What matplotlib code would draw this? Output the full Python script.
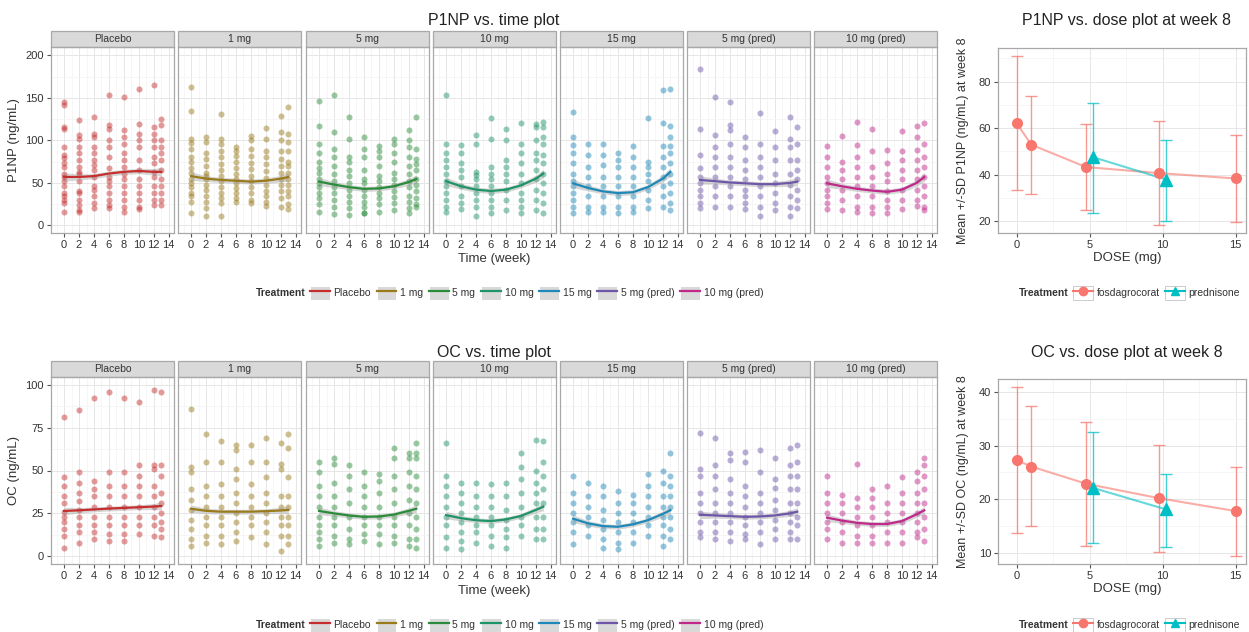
import numpy as np
import matplotlib
matplotlib.use("Agg")
import matplotlib.pyplot as plt
from matplotlib.lines import Line2D
from matplotlib.patches import Rectangle
from matplotlib.legend_handler import HandlerLine2D
from matplotlib.ticker import MultipleLocator

plt.rcParams["font.family"] = ["Liberation Sans", "DejaVu Sans"]

# ---------------------------------------------------------------- data
WEEKS = [0, 2, 4, 6, 8, 10, 12, 13]
TREATMENTS = ["Placebo", "1 mg", "5 mg", "10 mg", "15 mg", "5 mg (pred)", "10 mg (pred)"]
COLORS = ["#C62D2D", "#9A7B1C", "#2A8C3A", "#1F9468", "#1E88B8", "#6E57A8", "#C0288A"]

# P1NP (ng/mL) observations, one list per week column
p1np_placebo = [
    [145, 142, 116, 113, 92, 83, 79, 73, 69, 61, 57, 52, 46, 38, 34, 30, 26, 16],
    [124, 106, 102, 92, 85, 77, 69, 63, 61, 52, 40, 38, 30, 24, 18, 16],
    [128, 108, 104, 92, 85, 77, 71, 65, 57, 46, 42, 34, 26, 20],
    [154, 118, 114, 100, 92, 81, 67, 57, 52, 46, 38, 30, 24, 20],
    [151, 112, 104, 96, 85, 77, 69, 61, 55, 46, 38, 30, 22, 16],
    [160, 119, 108, 100, 92, 77, 65, 54, 46, 38, 30, 22, 19],
    [165, 116, 108, 100, 92, 81, 73, 63, 57, 46, 38, 30, 24],
    [125, 118, 100, 92, 85, 77, 65, 54, 46, 38, 30, 24],
]
p1np_1mg = [
    [163, 135, 102, 97, 90, 80, 75, 68, 62, 55, 50, 45, 38, 34, 28, 14],
    [104, 98, 85, 78, 70, 62, 58, 54, 48, 42, 35, 28, 20, 11],
    [131, 102, 96, 88, 80, 72, 65, 58, 52, 45, 38, 32, 26, 11],
    [92, 88, 82, 75, 68, 60, 55, 50, 44, 38, 32, 27],
    [105, 100, 90, 82, 74, 66, 58, 52, 45, 38, 30, 26],
    [115, 102, 88, 80, 72, 64, 56, 48, 40, 34, 28, 23],
    [129, 110, 100, 88, 78, 70, 62, 55, 48, 40, 32, 22],
    [139, 108, 98, 88, 75, 70, 62, 55, 48, 40, 34, 25, 19],
]
p1np_5mg = [
    [147, 117, 96, 85, 75, 68, 62, 55, 50, 45, 38, 32, 25, 16],
    [154, 110, 90, 80, 70, 60, 52, 45, 38, 30, 22, 13],
    [127, 102, 80, 75, 65, 58, 50, 42, 35, 28, 20, 12],
    [104, 90, 80, 65, 55, 50, 42, 35, 28, 22, 15, 14],
    [93, 88, 80, 70, 58, 52, 45, 38, 32, 25, 16],
    [102, 96, 85, 75, 62, 55, 48, 40, 33, 26, 18],
    [112, 100, 92, 80, 70, 60, 52, 45, 35, 28, 20, 14],
    [127, 90, 78, 72, 65, 55, 48, 40, 32, 25, 22],
]
p1np_10mg = [
    [153, 96, 85, 77, 69, 61, 52, 46, 38, 30, 22, 16],
    [95, 85, 73, 65, 57, 46, 34, 26, 19],
    [106, 96, 63, 59, 54, 46, 38, 30, 22, 11],
    [126, 102, 69, 61, 54, 46, 38, 30, 22, 14],
    [114, 100, 77, 69, 61, 52, 42, 30, 18],
    [121, 96, 85, 73, 61, 50, 38, 30, 22, 14],
    [119, 116, 100, 85, 77, 65, 54, 42, 30, 18],
    [122, 116, 104, 96, 83, 73, 61, 50, 38, 26, 14],
]
p1np_15mg = [
    [134, 104, 95, 85, 73, 61, 52, 46, 38, 30, 22, 14],
    [96, 83, 69, 57, 46, 34, 22, 16],
    [96, 83, 71, 57, 46, 34, 22, 16],
    [85, 77, 69, 57, 46, 34, 22, 14],
    [93, 81, 69, 57, 46, 34, 22, 16],
    [126, 75, 69, 61, 52, 42, 30, 20],
    [159, 120, 93, 81, 69, 57, 46, 34, 22],
    [160, 117, 104, 93, 85, 73, 61, 50, 38, 26, 18],
]
p1np_5mg_pred = [
    [184, 114, 83, 67, 57, 50, 42, 34, 26, 20],
    [151, 106, 92, 81, 69, 57, 46, 34, 22],
    [145, 118, 112, 96, 81, 69, 57, 46, 34, 22],
    [104, 92, 77, 65, 54, 42, 34, 26, 19],
    [132, 96, 81, 69, 57, 46, 34, 22, 11],
    [111, 92, 77, 61, 50, 38, 26, 18],
    [128, 102, 92, 77, 61, 48, 34, 22, 11],
    [116, 96, 77, 65, 54, 42, 30, 21],
]
p1np_10mg_pred = [
    [93, 81, 69, 57, 50, 42, 34, 26, 19],
    [105, 75, 65, 54, 42, 30, 18],
    [122, 95, 81, 69, 57, 46, 34, 22, 16],
    [113, 87, 69, 57, 46, 34, 22, 14],
    [89, 73, 61, 52, 40, 30, 22, 14],
    [111, 87, 77, 65, 54, 42, 30, 19],
    [117, 104, 89, 77, 65, 54, 42, 30, 23],
    [121, 96, 81, 69, 57, 46, 34, 22, 18],
]

# OC (ng/mL) observations
oc_placebo = [
    [81, 46, 41, 35, 31, 26, 23, 20, 16, 12, 5],
    [85, 49, 43, 37, 32, 27, 23, 18, 14, 8],
    [92, 44, 39, 35, 29, 23, 18, 14, 10],
    [96, 49, 41, 35, 29, 23, 18, 13, 9],
    [92, 49, 41, 35, 29, 23, 18, 13, 9],
    [90, 53, 47, 41, 35, 29, 23, 18, 13],
    [97, 53, 51, 41, 35, 29, 23, 18, 12],
    [96, 53, 47, 37, 31, 25, 20, 16, 11],
]
oc_1mg = [
    [86, 52, 49, 39, 33, 27, 21, 16, 10, 6],
    [71, 55, 41, 35, 29, 23, 18, 12, 8],
    [67, 55, 42, 35, 29, 23, 18, 12, 7],
    [65, 62, 51, 45, 37, 31, 25, 20, 14, 9],
    [65, 55, 42, 35, 29, 23, 18, 11],
    [69, 55, 46, 37, 31, 25, 20, 14, 7],
    [66, 54, 51, 35, 29, 23, 18, 12, 3],
    [71, 63, 46, 35, 29, 23, 18, 12, 7],
]
oc_5mg = [
    [55, 49, 41, 35, 29, 23, 18, 14, 10, 6],
    [57, 54, 43, 35, 29, 23, 18, 12, 8],
    [53, 47, 39, 31, 23, 16, 10, 7],
    [49, 41, 35, 29, 23, 18, 13, 9],
    [48, 44, 37, 29, 23, 18, 13, 7],
    [63, 57, 47, 39, 31, 23, 18, 12, 8],
    [60, 57, 49, 41, 33, 25, 18, 10, 6],
    [66, 60, 57, 47, 39, 31, 23, 16, 10, 5],
]
oc_10mg = [
    [66, 47, 41, 35, 29, 23, 18, 11, 5],
    [43, 37, 31, 25, 20, 14, 9, 4],
    [43, 35, 29, 23, 18, 14, 8],
    [42, 35, 29, 23, 18, 12, 6],
    [43, 35, 27, 21, 16, 11, 5],
    [60, 52, 45, 37, 29, 23, 18, 12],
    [68, 50, 43, 37, 31, 23, 16, 10],
    [67, 55, 47, 39, 31, 23, 16, 10],
]
oc_15mg = [
    [47, 37, 31, 25, 20, 14, 7],
    [43, 35, 29, 23, 18, 12],
    [41, 35, 27, 21, 16, 10, 5],
    [38, 31, 25, 20, 14, 8, 4],
    [36, 31, 25, 20, 14, 8],
    [48, 41, 35, 29, 23, 18, 12],
    [50, 43, 35, 29, 23, 18, 12, 6],
    [60, 47, 41, 35, 29, 23, 16, 10],
]
oc_5mg_pred = [
    [72, 51, 47, 37, 31, 25, 20, 14, 11],
    [69, 53, 47, 39, 31, 25, 20, 14, 10],
    [60, 56, 45, 37, 31, 25, 20, 14, 9],
    [61, 55, 41, 35, 29, 23, 18, 13, 10],
    [62, 49, 37, 31, 25, 20, 14, 7],
    [57, 45, 40, 33, 27, 21, 16, 10],
    [63, 53, 47, 39, 31, 25, 20, 14, 10],
    [65, 55, 47, 39, 31, 23, 18, 10],
]
oc_10mg_pred = [
    [47, 37, 31, 25, 20, 16, 10],
    [36, 31, 25, 20, 14, 8],
    [54, 34, 29, 23, 18, 12, 8],
    [39, 34, 29, 23, 18, 12, 8],
    [41, 31, 25, 20, 14, 8],
    [46, 37, 31, 25, 20, 14, 8],
    [49, 44, 37, 31, 25, 20, 14, 11],
    [57, 53, 47, 39, 31, 23, 16, 9],
]

# loess smooth read at each week column
p1np_smooth = [
    [57, 57, 58, 61, 63, 64, 63, 63],
    [58, 55, 53.5, 52.5, 51.5, 52.5, 55, 57],
    [51.5, 48, 45, 43, 43.5, 46, 51, 54.5],
    [52, 46, 42, 40.5, 42, 47, 55, 61],
    [49.5, 44, 40, 38, 39, 45, 55, 63],
    [53.5, 52, 50.5, 49.5, 48.5, 48.5, 50, 51.5],
    [49.5, 46, 43, 41, 39.5, 42, 50, 57],
]
p1np_ci_half = [5, 3.5, 3, 3, 3, 3, 4, 5]
oc_smooth = [
    [26.4, 26.8, 27.3, 27.8, 28.2, 28.6, 29.0, 29.3],
    [27.7, 26.5, 26.0, 26.0, 26.0, 26.3, 26.7, 27.0],
    [26.4, 25.0, 23.8, 23.0, 23.2, 24.3, 26.5, 27.7],
    [24.0, 22.2, 21.0, 20.5, 21.5, 23.5, 27.0, 28.9],
    [21.9, 19.2, 17.6, 17.2, 18.6, 21.0, 24.7, 26.8],
    [24.2, 23.8, 23.4, 23.0, 23.2, 23.8, 25.0, 26.0],
    [22.5, 20.8, 19.5, 18.8, 18.8, 20.5, 24.5, 26.8],
]
oc_ci_half = [2.2, 1.6, 1.4, 1.4, 1.4, 1.4, 1.8, 2.3]

# week-8 dose summaries (mean and mean -/+ SD)
fos_dose = [0, 1, 5, 10, 15]
pred_dose = [5, 10]
fos_p1np_mean = [62.1, 52.9, 43.3, 40.7, 38.4]
fos_p1np_lo = [33.3, 31.9, 24.7, 18.6, 19.6]
fos_p1np_hi = [90.8, 73.6, 61.7, 63.0, 57.2]
pred_p1np_mean = [47.5, 37.9]
pred_p1np_lo = [23.4, 20.3]
pred_p1np_hi = [70.6, 54.8]
fos_oc_mean = [27.3, 26.1, 22.9, 20.2, 17.8]
fos_oc_lo = [13.7, 15.0, 11.3, 10.1, 9.4]
fos_oc_hi = [40.9, 37.3, 34.3, 30.2, 26.0]
pred_oc_mean = [22.1, 18.1]
pred_oc_lo = [11.8, 11.2]
pred_oc_hi = [32.5, 24.8]

# ---------------------------------------------------------------- layout
W, H = 1249, 632
fig = plt.figure(figsize=(W / 100, H / 100), dpi=100)

PANEL_LEFT = [51, 178, 306, 433, 560, 687, 814]
PANEL_W = 123
GRID_MAJOR = "#E6E6E6"
GRID_MINOR = "#F3F3F3"
BORDER = "#A8A8A8"
TXT = "#333333"
FOS_C = "#F8766D"
PRED_C = "#00BFC4"


def px_axes(x0, y0, x1, y1):
    return fig.add_axes([x0 / W, 1 - y1 / H, (x1 - x0) / W, (y1 - y0) / H])


def style_axes(ax):
    for s in ax.spines.values():
        s.set_color(BORDER)
        s.set_linewidth(0.9)
    ax.grid(which="major", color=GRID_MAJOR, lw=0.7)
    ax.grid(which="minor", color=GRID_MINOR, lw=0.5)
    ax.set_axisbelow(True)
    ax.tick_params(which="major", length=3, width=0.8, color="#555555",
                   labelsize=8, labelcolor=TXT, pad=2)
    ax.tick_params(which="minor", length=0)


def facet_row(top, bottom, panels, smooth, ci_half, ylim, ymajor, ylabel):
    strip_h = 16
    for i, (name, color, cols) in enumerate(zip(TREATMENTS, COLORS, panels)):
        ax = px_axes(PANEL_LEFT[i], top, PANEL_LEFT[i] + PANEL_W, bottom)
        for wk, vals in zip(WEEKS, cols):
            ax.scatter(np.full(len(vals), wk), vals, s=19, color=color,
                       alpha=0.48, linewidths=0, zorder=2)
        sm = np.array(smooth[i])
        ci = np.array(ci_half)
        ax.fill_between(WEEKS, sm - ci, sm + ci, color="#999999", alpha=0.4,
                        lw=0, zorder=3)
        ax.plot(WEEKS, sm, color=color, lw=1.6, zorder=4)
        ax.set_xlim(-1.75, 14.7)
        ax.set_ylim(*ylim)
        ax.xaxis.set_major_locator(MultipleLocator(2))
        ax.xaxis.set_minor_locator(MultipleLocator(1))
        ax.yaxis.set_major_locator(MultipleLocator(ymajor))
        ax.yaxis.set_minor_locator(MultipleLocator(ymajor / 2))
        style_axes(ax)
        if i == 0:
            ax.set_ylabel(ylabel, fontsize=9.5, color=TXT)
            ax.yaxis.set_label_coords(-0.255, 0.5)
        else:
            ax.tick_params(axis="y", which="both", left=False, labelleft=False)
        sh = strip_h / (bottom - top)
        ax.add_patch(Rectangle((0, 1), 1, sh, transform=ax.transAxes,
                               clip_on=False, facecolor="#D9D9D9",
                               edgecolor=BORDER, lw=0.9))
        ax.text(0.5, 1 + sh / 2, name, transform=ax.transAxes, ha="center",
                va="center", fontsize=7.5, color=TXT)


def dose_plot(top, bottom, fm, flo, fhi, pm, plo, phi, ylim, ylabel):
    ax = px_axes(998, top, 1246, bottom)
    fx = [d - 0.25 if d in pred_dose else d for d in fos_dose]
    px_ = [d + 0.25 for d in pred_dose]
    fm, flo, fhi = map(np.array, (fm, flo, fhi))
    pm, plo, phi = map(np.array, (pm, plo, phi))
    ax.errorbar(fx, fm, yerr=[fm - flo, fhi - fm], fmt="none", ecolor=FOS_C,
                alpha=0.75, elinewidth=1.0, capsize=4, capthick=1.0, zorder=2)
    ax.errorbar(px_, pm, yerr=[pm - plo, phi - pm], fmt="none", ecolor=PRED_C,
                alpha=0.75, elinewidth=1.0, capsize=4, capthick=1.0, zorder=2)
    ax.plot(fx, fm, color=FOS_C, alpha=0.6, lw=1.5, zorder=3)
    ax.plot(px_, pm, color=PRED_C, alpha=0.6, lw=1.5, zorder=3)
    ax.plot(fx, fm, "o", color=FOS_C, ms=7, zorder=4)
    ax.plot(px_, pm, "^", color=PRED_C, ms=8, zorder=4)
    ax.set_xlim(-1.28, 15.7)
    ax.set_ylim(*ylim)
    ax.xaxis.set_major_locator(MultipleLocator(5))
    ax.xaxis.set_minor_locator(MultipleLocator(2.5))
    step = 20 if ylim[1] > 60 else 10
    ax.yaxis.set_major_locator(MultipleLocator(step))
    ax.yaxis.set_minor_locator(MultipleLocator(step / 2))
    style_axes(ax)
    ax.set_ylabel(ylabel, fontsize=9, color=TXT)
    ax.yaxis.set_label_coords(-0.115, 0.5)
    return ax


class BoxedKey(HandlerLine2D):
    def __init__(self, face, edge, **kw):
        super().__init__(**kw)
        self.face = face
        self.edge = edge

    def create_artists(self, legend, orig_handle, xdescent, ydescent, width,
                       height, fontsize, trans):
        box = Rectangle((-xdescent, -ydescent), width, height,
                        facecolor=self.face, edgecolor=self.edge, lw=0.7,
                        transform=trans)
        arts = super().create_artists(legend, orig_handle, xdescent, ydescent,
                                      width, height, fontsize, trans)
        return [box] + list(arts)


def legend_row(handles, labels, x_left, y, face, edge):
    leg = fig.legend(handles, labels, loc="center left",
                     bbox_to_anchor=(x_left / W, 1 - y / H), ncol=len(labels),
                     frameon=False, fontsize=7.5, handlelength=1.9,
                     handleheight=1.8, handletextpad=0.35, columnspacing=0.55,
                     borderpad=0, borderaxespad=0,
                     handler_map={Line2D: BoxedKey(face, edge)})
    for t in leg.get_texts():
        t.set_color(TXT)
    fig.text((x_left - 4) / W, 1 - y / H, "Treatment", ha="right",
             va="center", fontsize=7.5, fontweight="bold", color=TXT)


# ---------------------------------------------------------------- P1NP row
facet_row(47, 233,
          [p1np_placebo, p1np_1mg, p1np_5mg, p1np_10mg, p1np_15mg,
           p1np_5mg_pred, p1np_10mg_pred],
          p1np_smooth, p1np_ci_half, (-9, 210), 50, "P1NP (ng/mL)")
fig.text(494 / W, 1 - 20 / H, "P1NP vs. time plot", ha="center", va="center",
         fontsize=11.5, color="#222222")
fig.text(494 / W, 1 - 259 / H, "Time (week)", ha="center", va="center",
         fontsize=9.5, color=TXT)

# ---------------------------------------------------------------- OC row
facet_row(377, 564,
          [oc_placebo, oc_1mg, oc_5mg, oc_10mg, oc_15mg, oc_5mg_pred,
           oc_10mg_pred],
          oc_smooth, oc_ci_half, (-4.5, 104.5), 25, "OC (ng/mL)")
fig.text(494 / W, 1 - 352 / H, "OC vs. time plot", ha="center", va="center",
         fontsize=11.5, color="#222222")
fig.text(494 / W, 1 - 591 / H, "Time (week)", ha="center", va="center",
         fontsize=9.5, color=TXT)

# ---------------------------------------------------------------- dose plots
dose_plot(48, 233, fos_p1np_mean, fos_p1np_lo, fos_p1np_hi, pred_p1np_mean,
          pred_p1np_lo, pred_p1np_hi, (15.0, 94.4),
          "Mean +/-SD P1NP (ng/mL) at week 8")
fig.text(1127 / W, 1 - 21 / H, "P1NP vs. dose plot at week 8", ha="center",
         va="center", fontsize=11.5, color="#222222")
fig.text(1127 / W, 1 - 258 / H, "DOSE (mg)", ha="center", va="center",
         fontsize=9.5, color=TXT)

dose_plot(379, 564, fos_oc_mean, fos_oc_lo, fos_oc_hi, pred_oc_mean,
          pred_oc_lo, pred_oc_hi, (7.95, 42.4),
          "Mean +/-SD OC (ng/mL) at week 8")
fig.text(1127 / W, 1 - 353 / H, "OC vs. dose plot at week 8", ha="center",
         va="center", fontsize=11.5, color="#222222")
fig.text(1127 / W, 1 - 589 / H, "DOSE (mg)", ha="center", va="center",
         fontsize=9.5, color=TXT)

# ---------------------------------------------------------------- legends
time_handles = [Line2D([], [], color=c, lw=1.6) for c in COLORS]
dose_handles = [Line2D([], [], color=FOS_C, lw=1.5, marker="o", ms=6),
                Line2D([], [], color=PRED_C, lw=1.5, marker="^", ms=6)]
dose_labels = ["fosdagrocorat", "prednisone"]
for y_leg in (293, 625):
    legend_row(time_handles, TREATMENTS, 310, y_leg, "#D9D9D9", "white")
    legend_row(dose_handles, dose_labels, 1073, y_leg, "white", "#CCCCCC")

fig.savefig("out.png", dpi=100)
